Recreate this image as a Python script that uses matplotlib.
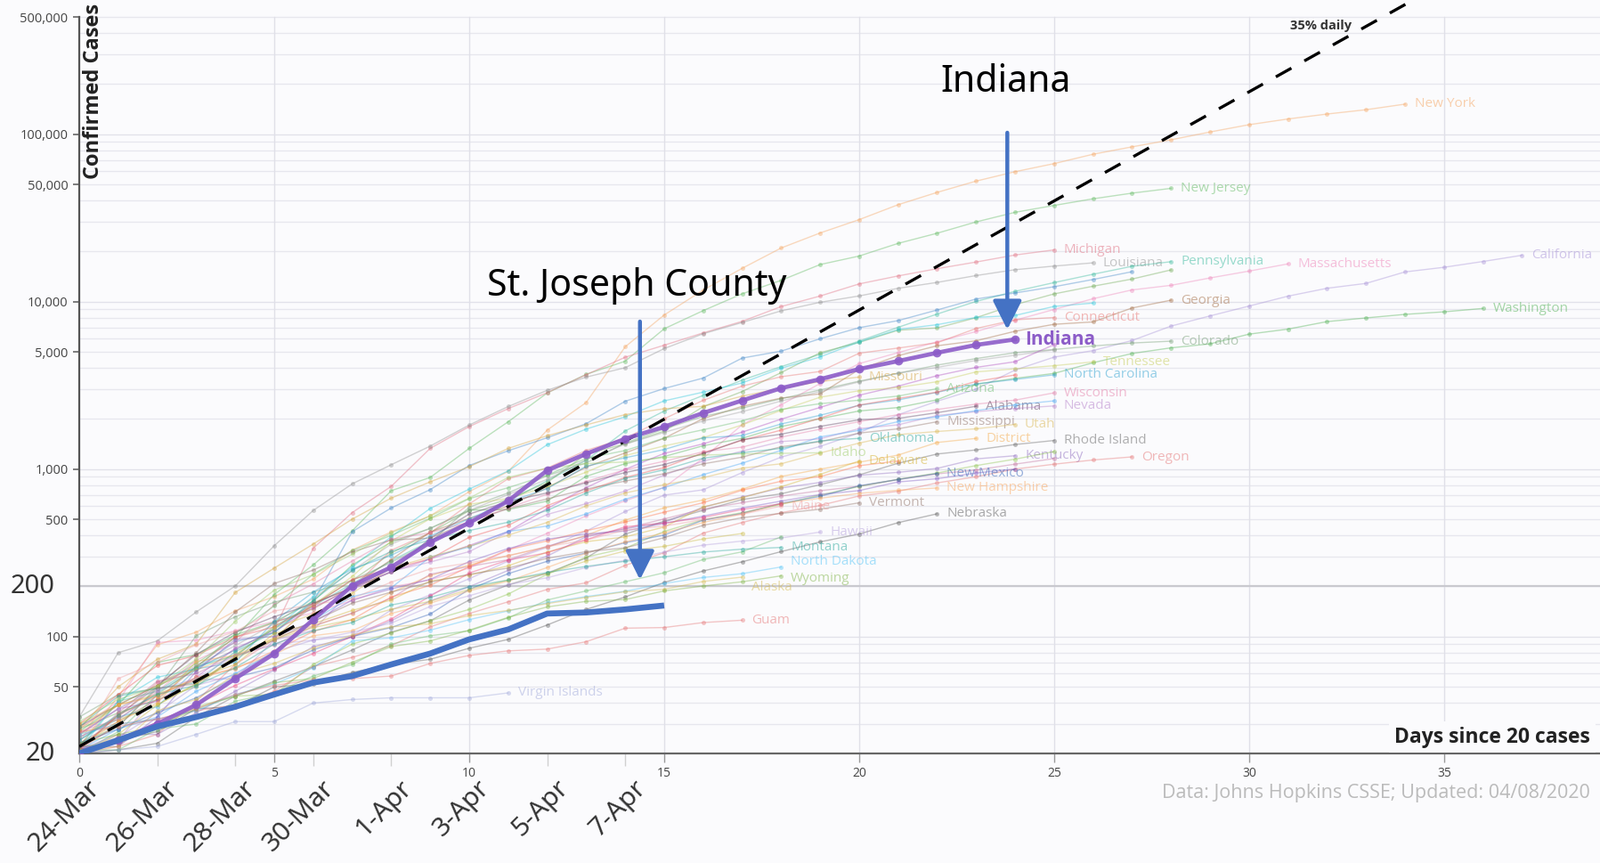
import matplotlib
matplotlib.use("Agg")
import matplotlib.pyplot as plt
from matplotlib.ticker import FixedLocator, NullFormatter

# ---------------- data (cumulative confirmed cases, index = days since 20 cases) -------------
new_york = [22, 44, 89, 106, 142, 173, 220, 328, 421, 525, 732, 967, 1706, 2495, 5365, 8310, 11710,
            15793, 20884, 25681, 30841, 37877, 44876, 52410, 59648, 66663, 75833, 83948, 92506,
            102987, 113833, 123160, 131815, 139875, 151061]
new_jersey = [23, 29, 50, 69, 98, 178, 267, 427, 742, 890, 1327, 1914, 2844, 3675, 4402, 6876, 8825,
              11124, 13386, 16636, 18696, 22255, 25590, 29895, 34124, 37505, 41090, 44416, 47437]
michigan = [25, 33, 53, 65, 83, 110, 336, 549, 787, 1328, 1791, 2294, 2856, 3657, 4650, 5486, 6498,
            7615, 9334, 10791, 12744, 14225, 15718, 17221, 18970, 20346]
louisiana = [33, 80, 94, 140, 200, 348, 565, 815, 1060, 1370, 1830, 2360, 2950, 3540, 4025, 5237,
             6424, 7500, 8800, 9900, 10800, 12000, 13010, 14300, 15500, 16284, 17030]
pennsylvania = [22, 41, 47, 66, 77, 112, 152, 206, 283, 371, 479, 644, 851, 1127, 1687, 2218, 2751,
                3394, 4087, 4843, 5805, 7016, 8420, 10017, 11510, 12980, 14559, 16239, 17300]
florida = [28, 35, 42, 50, 76, 115, 155, 216, 314, 417, 563, 659, 830, 1227, 1412, 1682, 2357, 2900,
           3763, 4950, 5704, 6741, 6955, 8010, 9585, 11111, 12350, 13629, 15455]
illinois = [25, 32, 46, 64, 93, 105, 161, 422, 585, 753, 1049, 1285, 1537, 1865, 2538, 3024, 3491,
            4596, 5057, 5994, 6980, 7695, 8904, 10357, 11256, 12262, 13549, 15078]
massachusetts = [28, 41, 92, 95, 108, 123, 138, 164, 197, 218, 256, 328, 413, 525, 646, 777, 1159,
                 1838, 2417, 3240, 4257, 4955, 5752, 6620, 7738, 8966, 10402, 11736, 12500, 13837,
                 15202, 16790]
california = [21, 25, 35, 51, 59, 81, 95, 101, 144, 177, 221, 282, 340, 426, 557, 698, 751, 952, 1177,
              1364, 1642, 2108, 2538, 2998, 3899, 4657, 5095, 5852, 7138, 8210, 9399, 10773, 12004,
              12837, 15034, 16019, 17351, 18897]
washington = [27, 39, 70, 78, 102, 122, 162, 267, 366, 442, 568, 572, 643, 904, 1076, 1187, 1376, 1524,
              1793, 1996, 2221, 2328, 2591, 3207, 3477, 3723, 4310, 4896, 5292, 5588, 6389, 6846, 7591,
              7984, 8384, 8682, 9097]
georgia = [23, 31, 42, 66, 99, 121, 146, 199, 287, 420, 507, 600, 772, 1026, 1247, 1525, 2000, 2366,
           2651, 2809, 3929, 4748, 5444, 5831, 6647, 7314, 7558, 9156, 10189]
connecticut = [20, 22, 26, 41, 68, 96, 159, 194, 327, 415, 618, 875, 1012, 1291, 1524, 1993, 2571,
               3128, 3557, 3824, 4914, 5276, 5675, 6906, 7781, 8030]
indiana = [20, 24, 30, 39, 56, 79, 126, 201, 259, 365, 477, 645, 981, 1232, 1514, 1786, 2159, 2565,
           3039, 3437, 3953, 4411, 4944, 5507, 5943]
colorado = [33, 45, 49, 101, 131, 160, 184, 216, 277, 363, 591, 720, 912, 1086, 1430, 1734, 2061,
            2311, 2627, 2966, 3346, 3728, 4173, 4565, 4950, 5172, 5429, 5655, 5800]
ohio = [26, 37, 50, 67, 88, 119, 169, 247, 356, 442, 564, 704, 867, 1137, 1406, 1653, 1933, 2199,
        2547, 2902, 3312, 3739, 4043, 4450, 4782, 5148]
texas = [21, 41, 57, 64, 83, 110, 173, 260, 394, 581, 758, 974, 1396, 1731, 2052, 2552, 2877, 3266,
         3997, 4669, 5734, 6812, 7276, 8043, 8262, 9353, 9792]
maryland = [26, 37, 41, 57, 85, 107, 149, 193, 244, 290, 349, 423, 580, 774, 995, 1239, 1413, 1660,
            1985, 2331, 2758, 3125, 3609, 4045, 4371, 5529]
tennessee = [26, 32, 39, 52, 73, 98, 154, 228, 371, 505, 615, 667, 784, 957, 1203, 1373, 1537, 1834,
             2239, 2683, 2933, 3067, 3321, 3802, 3963, 4139, 4362]
north_carolina = [24, 33, 38, 64, 70, 123, 184, 253, 305, 398, 504, 636, 763, 1040, 1167, 1307, 1535,
                  1584, 1857, 2093, 2402, 2585, 2870, 3221, 3426, 3651]
virginia = [30, 45, 67, 77, 99, 114, 152, 219, 254, 290, 391, 460, 604, 739, 890, 1020, 1250, 1484,
            1706, 2012, 2407, 2637, 2878, 3333, 3645]
wisconsin = [27, 32, 47, 72, 92, 155, 206, 282, 381, 416, 481, 585, 707, 842, 989, 1112, 1267, 1351,
             1550, 1730, 1916, 2112, 2267, 2440, 2578, 2850]
arizona = [20, 27, 45, 65, 104, 152, 235, 326, 401, 508, 665, 773, 919, 1157, 1289, 1530, 1715, 1937,
           2269, 2456, 2575, 2726, 3018]
missouri = [28, 50, 73, 90, 183, 256, 356, 502, 670, 838, 1031, 1327, 1580, 1834, 2113, 2291, 2367,
            2722, 3037, 3327, 3539]
alabama = [29, 39, 51, 78, 106, 131, 157, 196, 242, 386, 538, 639, 720, 827, 952, 1063, 1233, 1495,
           1614, 1796, 1968, 2006, 2169, 2369]
nevada = [21, 24, 45, 55, 56, 95, 109, 190, 245, 278, 321, 420, 535, 621, 738, 920, 1114, 1279, 1458,
          1514, 1742, 1836, 2087, 2200, 2300, 2380]
south_carolina = [21, 28, 33, 47, 60, 81, 125, 173, 195, 298, 342, 424, 456, 539, 660, 774, 925, 1083,
                  1293, 1554, 1700, 1917, 2049, 2232, 2417, 2552]
mississippi = [21, 34, 50, 80, 140, 207, 249, 320, 377, 386, 485, 579, 663, 758, 847, 937, 1073, 1177,
               1358, 1455, 1638, 1738, 1915]
utah = [28, 39, 51, 63, 78, 112, 136, 181, 257, 298, 346, 402, 480, 602, 719, 806, 887, 1012, 1074,
        1246, 1428, 1605, 1675, 1738, 1846]
oklahoma = [29, 44, 49, 53, 81, 106, 164, 248, 322, 377, 429, 481, 565, 719, 879, 988, 1159, 1252,
            1327, 1472, 1524]
district_of_columbia = [22, 31, 40, 71, 77, 98, 116, 137, 183, 231, 267, 304, 342, 401, 495, 586, 653,
                        757, 902, 998, 1097, 1211, 1440, 1523]
rhode_island = [20, 21, 23, 33, 44, 54, 66, 83, 106, 124, 165, 203, 239, 294, 408, 488, 566, 657, 711,
                806, 922, 1082, 1229, 1300, 1400, 1480]
kentucky = [21, 26, 26, 35, 47, 63, 87, 99, 124, 163, 198, 248, 302, 394, 439, 480, 591, 680, 770, 831,
            917, 955, 1008, 1149, 1200]
minnesota = [21, 35, 54, 60, 77, 89, 115, 138, 169, 235, 262, 287, 346, 398, 441, 503, 576, 629, 689,
             742, 789, 865, 935, 986, 1069, 1154]
oregon = [21, 30, 32, 36, 39, 47, 66, 75, 88, 114, 137, 161, 191, 209, 266, 316, 414, 479, 548, 606,
          690, 736, 826, 899, 999, 1068, 1132, 1181]
iowa = [22, 23, 29, 38, 44, 45, 68, 90, 105, 124, 145, 179, 235, 298, 336, 424, 497, 549, 614, 699,
        786, 868, 946, 1048, 1145, 1270]
kansas = [21, 34, 44, 57, 64, 82, 107, 126, 172, 202, 261, 330, 372, 428, 482, 552, 629, 747, 845, 900,
          1046, 1116]
arkansas = [22, 22, 33, 62, 96, 100, 122, 165, 192, 219, 280, 335, 381, 409, 426, 473, 523, 584, 643,
            704, 743, 837, 875, 946, 1000]
idaho = [31, 42, 50, 73, 123, 189, 234, 310, 415, 525, 669, 891, 1013, 1077, 1101, 1170, 1210, 1232,
         1240, 1250]
delaware = [30, 39, 45, 56, 68, 104, 119, 143, 165, 214, 232, 264, 319, 368, 393, 450, 593, 673, 783,
            928, 1116]
new_mexico = [23, 28, 35, 43, 57, 65, 83, 100, 113, 136, 191, 237, 281, 315, 363, 403, 495, 543, 624,
              686, 794, 865, 940]
new_hampshire = [26, 39, 44, 55, 65, 78, 101, 108, 137, 158, 187, 214, 258, 314, 367, 415, 479, 540,
                 621, 669, 715, 747, 770]
vermont = [22, 29, 49, 52, 75, 95, 123, 158, 184, 211, 235, 256, 293, 321, 338, 389, 461, 512, 543, 575,
           628]
maine = [23, 56, 70, 89, 107, 142, 155, 168, 211, 253, 275, 303, 344, 376, 432, 456, 499, 537, 600]
nebraska = [21, 24, 27, 37, 38, 50, 52, 61, 68, 73, 85, 96, 117, 145, 172, 210, 246, 279, 321, 367, 409,
            478, 540]
puerto_rico = [21, 23, 31, 39, 51, 64, 79, 100, 127, 174, 239, 286, 316, 378, 452, 475, 513, 573, 620]
hawaii = [26, 37, 48, 56, 77, 90, 95, 106, 120, 151, 175, 204, 224, 258, 285, 319, 351, 371, 387, 420]
west_virginia = [20, 26, 39, 52, 76, 96, 113, 126, 145, 162, 191, 217, 237, 282, 324, 345, 382, 412]
south_dakota = [21, 21, 28, 30, 41, 46, 58, 68, 90, 101, 108, 129, 165, 187, 212, 240, 288, 320, 393]
montana = [24, 34, 45, 51, 65, 90, 108, 121, 154, 171, 198, 217, 241, 262, 281, 299, 319, 332, 340]
north_dakota = [26, 30, 32, 36, 45, 52, 65, 94, 98, 109, 126, 142, 159, 173, 186, 207, 225, 237, 260]
alaska = [21, 22, 36, 42, 59, 69, 85, 102, 114, 119, 133, 143, 157, 171, 185, 191, 213, 226]
wyoming = [23, 26, 29, 37, 44, 53, 56, 70, 87, 94, 109, 130, 150, 162, 166, 187, 200, 212, 230]
guam = [27, 29, 32, 37, 45, 51, 55, 56, 58, 69, 77, 82, 84, 93, 112, 113, 121, 125]
virgin_islands = [20, 21, 22, 26, 31, 31, 40, 42, 43, 43, 43, 46]

st_joseph_county = [20, 24, 29, 33, 38, 45, 53, 58, 68, 79, 96, 110, 137, 139, 145, 153]

growth_start = 22
growth_rate = 0.35
date_labels = ["24-Mar", "26-Mar", "28-Mar", "30-Mar", "1-Apr", "3-Apr", "5-Apr", "7-Apr"]
date_days = [0, 2, 4, 6, 8, 10, 12, 14]
x_ticks = [0, 5, 10, 15, 20, 25, 30, 35]
y_ticks = [50, 100, 500, 1000, 5000, 10000, 50000, 100000, 500000]
y_big_ticks = [20, 200]

# (label, series, colour, show label)
states = [
    ("New York", new_york, "#f5a25b", True),
    ("New Jersey", new_jersey, "#5cb85c", True),
    ("Michigan", michigan, "#e06c7e", True),
    ("Louisiana", louisiana, "#8f8f8f", True),
    ("Pennsylvania", pennsylvania, "#33b89a", True),
    ("Florida", florida, "#6aa84f", False),
    ("Illinois", illinois, "#3d85c6", False),
    ("Massachusetts", massachusetts, "#ee82b8", True),
    ("California", california, "#a58fd6", True),
    ("Washington", washington, "#4caf50", True),
    ("Georgia", georgia, "#a0673c", True),
    ("Connecticut", connecticut, "#e8736f", True),
    ("Colorado", colorado, "#6f9a6f", True),
    ("Ohio", ohio, "#9e9e9e", False),
    ("Texas", texas, "#26c6da", False),
    ("Maryland", maryland, "#ab47bc", False),
    ("Tennessee", tennessee, "#c5cc55", True),
    ("North Carolina", north_carolina, "#2aa0d0", True),
    ("Virginia", virginia, "#ef5350", False),
    ("Wisconsin", wisconsin, "#e47aa5", True),
    ("Arizona", arizona, "#66bb6a", True),
    ("Missouri", missouri, "#d4a33c", True),
    ("Alabama", alabama, "#5a3d5c", True),
    ("Nevada", nevada, "#b37cc9", True),
    ("South Carolina", south_carolina, "#42a5f5", False),
    ("Mississippi", mississippi, "#8d6e63", True),
    ("Utah", utah, "#d9b44a", True),
    ("Oklahoma", oklahoma, "#26a69a", True),
    ("District", district_of_columbia, "#f4a742", True),
    ("Rhode Island", rhode_island, "#616161", True),
    ("Kentucky", kentucky, "#8e6bbf", True),
    ("Minnesota", minnesota, "#c06c9b", False),
    ("Oregon", oregon, "#e57373", True),
    ("Iowa", iowa, "#8bc34a", False),
    ("Kansas", kansas, "#ff7043", False),
    ("Arkansas", arkansas, "#7e57c2", False),
    ("Idaho", idaho, "#9ccc65", True),
    ("Delaware", delaware, "#d4b02a", True),
    ("New Mexico", new_mexico, "#2e5fb5", True),
    ("New Hampshire", new_hampshire, "#f9a55a", True),
    ("Vermont", vermont, "#8d6e63", True),
    ("Maine", maine, "#ef9a9a", True),
    ("Nebraska", nebraska, "#555555", True),
    ("Puerto Rico", puerto_rico, "#ec407a", False),
    ("Hawaii", hawaii, "#b39ddb", True),
    ("West Virginia", west_virginia, "#c9b83a", False),
    ("South Dakota", south_dakota, "#66bb6a", False),
    ("Montana", montana, "#26a69a", True),
    ("North Dakota", north_dakota, "#4fc3f7", True),
    ("Alaska", alaska, "#d4b84a", True),
    ("Wyoming", wyoming, "#7cb342", True),
    ("Guam", guam, "#e57373", True),
    ("Virgin Islands", virgin_islands, "#9fa8da", True),
]
label_nudge = {"Alaska": -0.06, "Wyoming": -0.015, "North Dakota": 0.03}

# ---------------- figure ----------------
W, H, DPI = 1797, 969, 100
fig = plt.figure(figsize=(W / DPI, H / DPI), dpi=DPI, facecolor="#fbfbfd")
ax_left, ax_right, ax_bottom, ax_top = 89, 1797, 846, 0
ax = fig.add_axes([ax_left / W, 1 - ax_bottom / H, (ax_right - ax_left) / W, (ax_bottom - ax_top) / H])
ax.set_facecolor("#fbfbfd")
ax.set_yscale("log")
ax.set_xlim(0, 39.0)
ax.set_ylim(20, 20 * 10 ** (846 / 188))

FONT = ["Open Sans", "DejaVu Sans"]
BIG = ["Noto Sans", "DejaVu Sans"]

# grid
minor = [m * 10 ** k for k in range(1, 6) for m in range(2, 10) if 20 <= m * 10 ** k <= 500000]
for v in minor:
    ax.axhline(v, color="#e7e7ee", lw=1.0, zorder=0)
for v in [100, 1000, 10000, 100000]:
    ax.axhline(v, color="#e2e2ea", lw=1.0, zorder=0)
ax.axhline(200, color="#c9c9cf", lw=1.6, zorder=0.5)
for d in x_ticks[1:]:
    ax.plot([d, d], [20, 500000], color="#e0e0e8", lw=1.0, zorder=0)

# state lines
for name, vals, col, show in states:
    days = list(range(len(vals)))
    ax.plot(days, vals, color=col, lw=1.0, alpha=0.4, marker="o", ms=3.6, mew=0, zorder=2)
    if show:
        yv = vals[-1] * 10 ** label_nudge.get(name, 0)
        ax.text(days[-1] + 0.25, yv, name, color=col, alpha=0.5, fontsize=11,
                va="center", ha="left", family=FONT, zorder=2)

# 35% daily reference line
ref_days = [i * 0.5 for i in range(0, 79)]
ref_vals = [growth_start * (1 + growth_rate) ** d for d in ref_days]
ax.plot(ref_days, ref_vals, color="black", lw=2.4, dashes=(6, 5), zorder=4)
ax.text(0.8167, 443000, "35% daily", transform=ax.get_yaxis_transform(), fontsize=10.5,
        fontweight="bold", color="#333333", ha="center", va="center", family=FONT, zorder=5)

# Indiana
ind_days = list(range(len(indiana)))
ax.plot(ind_days, indiana, color="#8c5cc8", lw=3.4, marker="o", ms=7, mew=0, alpha=0.9, zorder=6)
ax.text(ind_days[-1] + 0.25, indiana[-1], "Indiana", color="#8c5cc8", fontsize=15,
        fontweight="bold", va="center", ha="left", family=FONT, zorder=6)

# St. Joseph County
sj_days = list(range(len(st_joseph_county)))
ax.plot(sj_days, st_joseph_county, color="#4472C4", lw=4.8, solid_capstyle="butt", zorder=7)

# annotations
arrow_kw = dict(arrowstyle="-|>,head_width=0.45,head_length=0.9", color="#4472C4", lw=3.2,
                mutation_scale=22, shrinkA=0, shrinkB=0)
ax.annotate("", xy=(23.8, 6800), xytext=(23.8, 102000), arrowprops=arrow_kw, zorder=8)
ax.annotate("", xy=(14.38, 218), xytext=(14.38, 7600), arrowprops=arrow_kw, zorder=8)
ax.text(23.75, 205000, "Indiana", fontsize=29.5, ha="center", va="center", family=BIG, color="black", zorder=9)
ax.text(14.3, 12400, "St. Joseph County", fontsize=29.5, ha="center", va="center", family=BIG,
        color="black", zorder=9)

# axes styling
for s in ["top", "right"]:
    ax.spines[s].set_visible(False)
ax.spines["left"].set_bounds(20, 500000)
ax.spines["left"].set_color("#555555")
ax.spines["left"].set_linewidth(1.6)
ax.spines["bottom"].set_color("#666666")
ax.spines["bottom"].set_linewidth(1.6)

ax.yaxis.set_major_locator(FixedLocator(y_ticks))
ax.set_yticklabels([f"{v:,}" for v in y_ticks])
ax.yaxis.set_minor_locator(FixedLocator([]))
ax.yaxis.set_minor_formatter(NullFormatter())
ax.tick_params(axis="y", which="major", length=5, width=1.2, color="#666666", labelsize=10.5,
               labelcolor="#444444", pad=4)
for lbl in ax.get_yticklabels():
    lbl.set_family(FONT)
for v in y_big_ticks:
    ax.text(-0.016, v, f"{v}", transform=ax.get_yaxis_transform(), fontsize=21, ha="right",
            va="center", family=BIG, color="#333333")

ax.set_xticks(x_ticks)
ax.set_xticklabels([str(t) for t in x_ticks])
ax.set_xticks([2, 4, 6, 8, 12, 14], minor=True)
ax.tick_params(axis="x", which="major", length=7, width=1.0, color="#999999", labelsize=10,
               labelcolor="#444444", pad=4)
ax.tick_params(axis="x", which="minor", length=10, width=1.0, color="#d0d0d0")
for lbl in ax.get_xticklabels():
    lbl.set_family(FONT)

for d, lab in zip(date_days, date_labels):
    ax.text(d + 0.2, -0.029, lab, transform=ax.get_xaxis_transform(), rotation=45,
            rotation_mode="anchor", ha="right", va="top", fontsize=21.5, family=BIG, color="#333333")

ax.text(0.0094, 0.995, "Confirmed Cases", transform=ax.transAxes, rotation=90, ha="center", va="top",
        fontsize=17, fontweight="bold", family=FONT, color="#222222")
ax.text(0.9935, 0.0217, "Days since 20 cases", transform=ax.transAxes, ha="right", va="center",
        fontsize=16.5, fontweight="bold", family=FONT, color="#222222",
        bbox=dict(boxstyle="square,pad=0.25", fc="#fbfbfd", ec="none"), zorder=9)
ax.text(0.9935, -0.053, "Data: Johns Hopkins CSSE; Updated: 04/08/2020", transform=ax.transAxes,
        ha="right", va="center", fontsize=15.5, family=FONT, color="#bbbbbb")

fig.savefig("out.png", dpi=DPI, facecolor=fig.get_facecolor())
